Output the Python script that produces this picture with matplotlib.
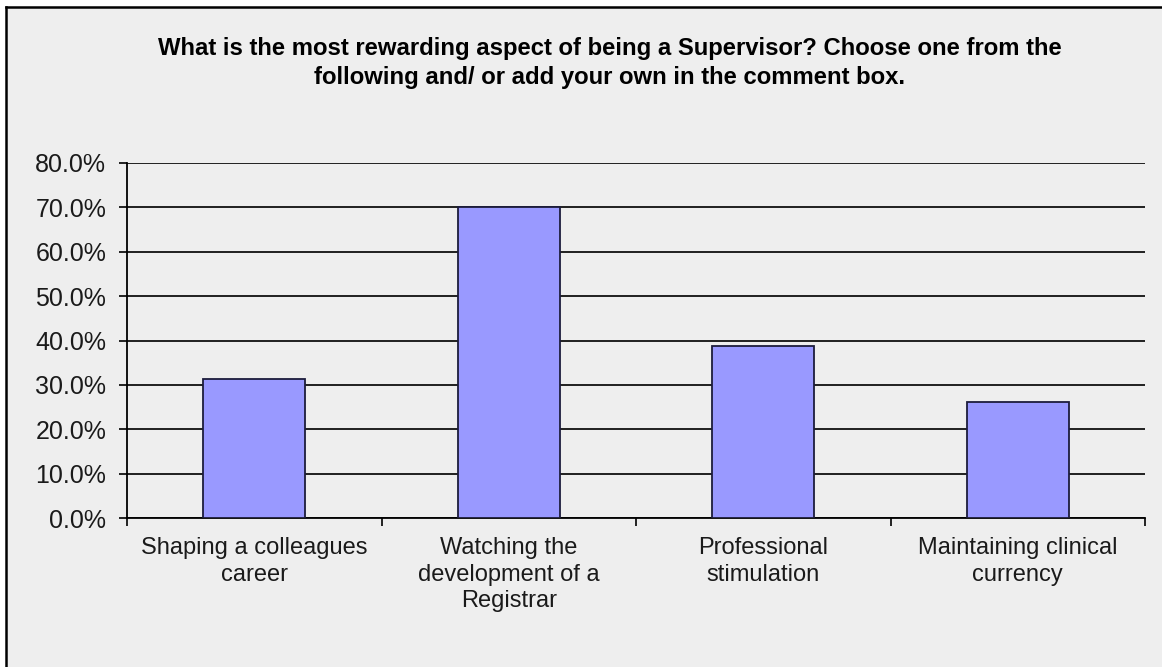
import matplotlib.pyplot as plt
from matplotlib.patches import Rectangle
from matplotlib.lines import Line2D
from matplotlib.ticker import PercentFormatter

categories = ['Shaping a colleagues\ncareer',
              'Watching the\ndevelopment of a\nRegistrar',
              'Professional\nstimulation',
              'Maintaining clinical\ncurrency']
values = [31.3, 70.0, 38.7, 26.1]
yticks = [0, 10, 20, 30, 40, 50, 60, 70, 80]

title = ('What is the most rewarding aspect of being a Supervisor? Choose one from the\n'
         'following and/ or add your own in the comment box.')

bg = '#eeeeee'
plt.rcParams['font.family'] = ['Liberation Sans', 'DejaVu Sans']

fig = plt.figure(figsize=(11.62, 6.67), dpi=100, facecolor='white')
W, H = 1162, 667

# grey panel with dark top/left edge
fig.patches.append(Rectangle((6 / W, 0), 1, 1 - 7 / H, transform=fig.transFigure,
                             facecolor=bg, edgecolor='none', zorder=-2))
fig.lines.append(Line2D([6 / W, 6 / W], [0, 1 - 7 / H], transform=fig.transFigure,
                        color='black', lw=1.8, zorder=-1))
fig.lines.append(Line2D([6 / W, 1], [1 - 7 / H, 1 - 7 / H], transform=fig.transFigure,
                        color='black', lw=1.8, zorder=-1))

ax = fig.add_axes([127 / W, 1 - 518 / H, (1145 - 127) / W, (518 - 163) / H])
ax.set_zorder(1)
ax.set_facecolor(bg)

x = range(len(categories))
ax.bar(x, values, width=0.4, color='#9999ff', edgecolor='#1c1c3c', linewidth=1.3, zorder=3)

ax.set_xlim(-0.5, len(categories) - 0.5)
ax.set_ylim(0, 80)
ax.set_yticks(yticks)
ax.yaxis.set_major_formatter(PercentFormatter(decimals=1))
ax.yaxis.grid(True, color='#202020', lw=1.4)
ax.set_axisbelow(True)

ax.set_xticks(list(x))
ax.set_xticklabels(categories, fontsize=17, color='#1a1a1a', linespacing=1.25)
ax.set_xticks([i - 0.5 for i in range(len(categories) + 1)], minor=True)
ax.tick_params(axis='x', which='major', length=0, pad=14)
ax.tick_params(axis='x', which='minor', length=6, width=1.2, direction='out')
ax.tick_params(axis='y', length=6, width=1.2, direction='out', pad=9,
               labelsize=18, labelcolor='#1a1a1a')

for side in ('top', 'right'):
    ax.spines[side].set_visible(False)
ax.spines['left'].set_linewidth(1.3)
ax.spines['bottom'].set_linewidth(1.3)

fig.text(610 / W, 1 - 63 / H, title, ha='center', va='center', fontsize=17.2,
         fontweight='bold', linespacing=1.3, zorder=2)

fig.savefig('out.png', dpi=100, facecolor=fig.get_facecolor())
